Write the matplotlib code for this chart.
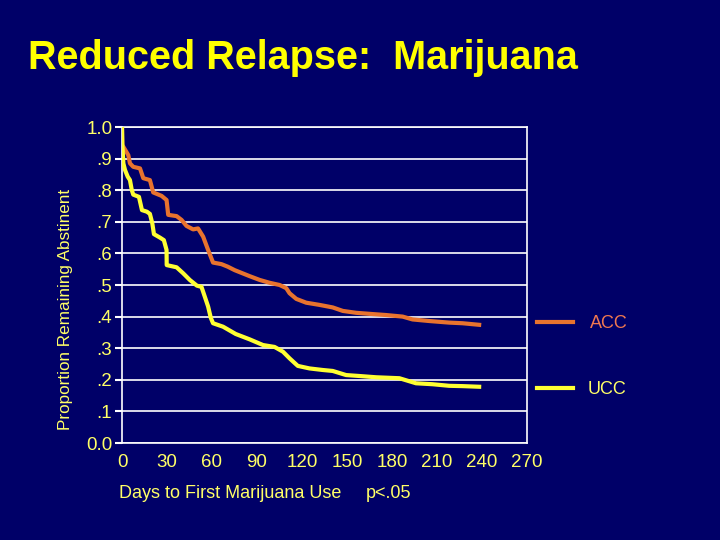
import matplotlib
matplotlib.use("Agg")
import matplotlib.pyplot as plt
from matplotlib.lines import Line2D

# ---------------- data ----------------
acc_days = [0, 0.2, 4.2, 5.3, 7.5, 12.0, 14.2, 18.6, 20.8, 26.4, 29.7, 30.8, 36.4, 39.7,
            43.0, 47.4, 50.7, 54.1, 57.4, 60.7, 66.3, 70.5, 75.1, 85.1, 91.8, 98.4,
            105.1, 109.5, 111.7, 116.2, 122.8, 131.7, 140.5, 147.2, 156.1, 167.1,
            176.0, 187.1, 193.7, 204.8, 218.1, 227.0, 238.1]
acc_prop = [1.0, 0.943, 0.911, 0.885, 0.874, 0.869, 0.838, 0.832, 0.793, 0.782, 0.769,
            0.722, 0.718, 0.706, 0.687, 0.676, 0.679, 0.653, 0.611, 0.571, 0.566, 0.558,
            0.547, 0.528, 0.516, 0.507, 0.500, 0.490, 0.474, 0.456, 0.444, 0.437, 0.429,
            0.418, 0.412, 0.408, 0.405, 0.400, 0.391, 0.386, 0.381, 0.379, 0.374]

ucc_days = [0, 0.2, 0.9, 2.0, 3.8, 5.3, 6.5, 7.5, 11.3, 13.3, 16.6, 18.6, 20.2, 21.3,
            25.3, 27.9, 29.7, 29.8, 36.4, 40.8, 45.2, 49.9, 53.0, 55.2, 57.4, 59.2,
            60.7, 67.4, 75.8, 85.1, 94.0, 101.7, 107.3, 111.7, 117.2, 125.0, 133.9,
            140.5, 149.4, 158.3, 169.4, 184.9, 196.0, 207.0, 218.1, 227.0, 238.1]
ucc_prop = [1.0, 0.948, 0.885, 0.864, 0.843, 0.832, 0.801, 0.786, 0.779, 0.737, 0.732,
            0.725, 0.695, 0.661, 0.650, 0.642, 0.611, 0.563, 0.556, 0.537, 0.516, 0.498,
            0.494, 0.463, 0.432, 0.396, 0.379, 0.368, 0.345, 0.328, 0.310, 0.304, 0.289,
            0.268, 0.244, 0.236, 0.231, 0.228, 0.215, 0.212, 0.208, 0.205, 0.189, 0.186,
            0.181, 0.180, 0.178]

x_ticks = [0, 30, 60, 90, 120, 150, 180, 210, 240, 270]
y_ticks = [0.0, 0.1, 0.2, 0.3, 0.4, 0.5, 0.6, 0.7, 0.8, 0.9, 1.0]
y_ticklabels = ["0.0", ".1", ".2", ".3", ".4", ".5", ".6", ".7", ".8", ".9", "1.0"]
series_names = ["ACC", "UCC"]

# ---------------- style ----------------
BG = "#000068"
YEL_TXT = "#FFFF66"
TITLE_C = "#FFFF00"
ORANGE = "#E8732E"
YELLOW = "#FFFF33"
ACC_TXT = "#F07850"

plt.rcParams['font.family'] = ['Liberation Sans', 'DejaVu Sans']

W, H = 720, 540
fig = plt.figure(figsize=(7.2, 5.4), dpi=100, facecolor=BG)

ax = fig.add_axes([122 / W, 1 - 443 / H, (527 - 122) / W, (443 - 127) / H])
ax.set_facecolor(BG)

ax.plot(acc_days, acc_prop, color=ORANGE, lw=3.0, solid_joinstyle='round', zorder=3)
ax.plot(ucc_days, ucc_prop, color=YELLOW, lw=3.0, solid_joinstyle='round', zorder=3)

ax.set_xlim(0, 270)
ax.set_ylim(0, 1.0)
ax.set_xticks(x_ticks)
ax.set_xticklabels([str(v) for v in x_ticks])
ax.set_yticks(y_ticks)
ax.set_yticklabels(y_ticklabels)

for yv in y_ticks:
    ax.axhline(yv, color="white", lw=1.2, zorder=1)
for s in ax.spines.values():
    s.set_color("white")
    s.set_linewidth(1.2)

ax.tick_params(axis='y', colors="white", length=5, width=1.5, direction='out',
               labelcolor=YEL_TXT, labelsize=13.5, pad=2)
ax.tick_params(axis='x', length=0, labelcolor=YEL_TXT, labelsize=13.5, pad=8)

ax.set_ylabel("Proportion Remaining Abstinent", color=YEL_TXT, fontsize=12.3)
ax.yaxis.set_label_coords(-(122 - 73) / (527 - 122), (443 - 309) / (443 - 127))

# title
fig.text(28 / W, 1 - 58 / H, "Reduced Relapse:  Marijuana", color=TITLE_C,
         fontsize=28.5, fontweight='bold', ha='left', va='center')

# x axis caption
fig.text(119 / W, 1 - 493 / H, "Days to First Marijuana Use", color=YEL_TXT,
         fontsize=13, ha='left', va='center')
fig.text(366 / W, 1 - 493 / H, "p<.05", color=YEL_TXT,
         fontsize=13, ha='left', va='center')

# legend
fig.add_artist(Line2D([537 / W, 573 / W], [1 - 322 / H, 1 - 322 / H], color=ORANGE, lw=3))
fig.add_artist(Line2D([537 / W, 573 / W], [1 - 388 / H, 1 - 388 / H], color=YELLOW, lw=3))
fig.text(590 / W, 1 - 323 / H, series_names[0], color=ACC_TXT, fontsize=13,
         ha='left', va='center')
fig.text(588 / W, 1 - 389 / H, series_names[1], color=YEL_TXT, fontsize=13,
         ha='left', va='center')

fig.savefig("out.png", dpi=100, facecolor=BG)
